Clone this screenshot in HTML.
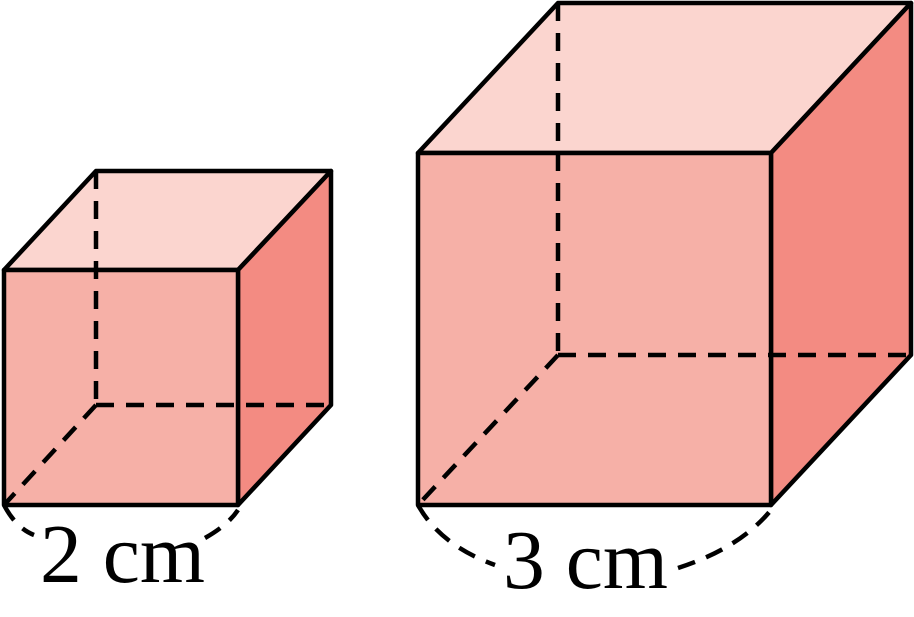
<!DOCTYPE html>
<html><head><meta charset="utf-8"><style>html,body{margin:0;padding:0;background:#fff}svg{display:block}</style></head>
<body>
<svg width="914" height="617" viewBox="0 0 914 617" xmlns="http://www.w3.org/2000/svg">
<g stroke="#000" stroke-width="4.5" stroke-linejoin="round">
<!-- small cube -->
<polygon points="4,270 96,171 331,171 238,270" fill="#FBD5CF"/>
<polygon points="238,270 331,171 331,405 238,505" fill="#F38B82"/>
<polygon points="4,270 238,270 238,505 4,505" fill="#F6B0A7"/>
<g fill="none" stroke-dasharray="18,12">
<line x1="96" y1="171" x2="96" y2="405"/>
<line x1="96" y1="405" x2="331" y2="405"/>
<line x1="96" y1="405" x2="4" y2="505"/>
<path d="M4,505 Q16,528 34,535"/>
<path d="M205,538 Q228,525 238,510"/>
</g>
<!-- big cube -->
<polygon points="418,153 558,3 911,3 771,153" fill="#FBD5CF"/>
<polygon points="771,153 911,3 911,355 771,505" fill="#F38B82"/>
<polygon points="418,153 771,153 771,505 418,505" fill="#F6B0A7"/>
<g fill="none" stroke-dasharray="18,12">
<line x1="558" y1="3" x2="558" y2="355"/>
<line x1="558" y1="355" x2="911" y2="355"/>
<line x1="558" y1="355" x2="418" y2="505"/>
<path d="M418,505 Q440,545 495,565"/>
<path d="M678,568 Q740,548 771,510"/>
</g>
</g>
<text x="40" y="582" font-family="Liberation Serif, serif" font-size="84" textLength="165" lengthAdjust="spacingAndGlyphs">2 cm</text>
<text x="503" y="588" font-family="Liberation Serif, serif" font-size="84" textLength="165" lengthAdjust="spacingAndGlyphs">3 cm</text>
</svg>
</body></html>
